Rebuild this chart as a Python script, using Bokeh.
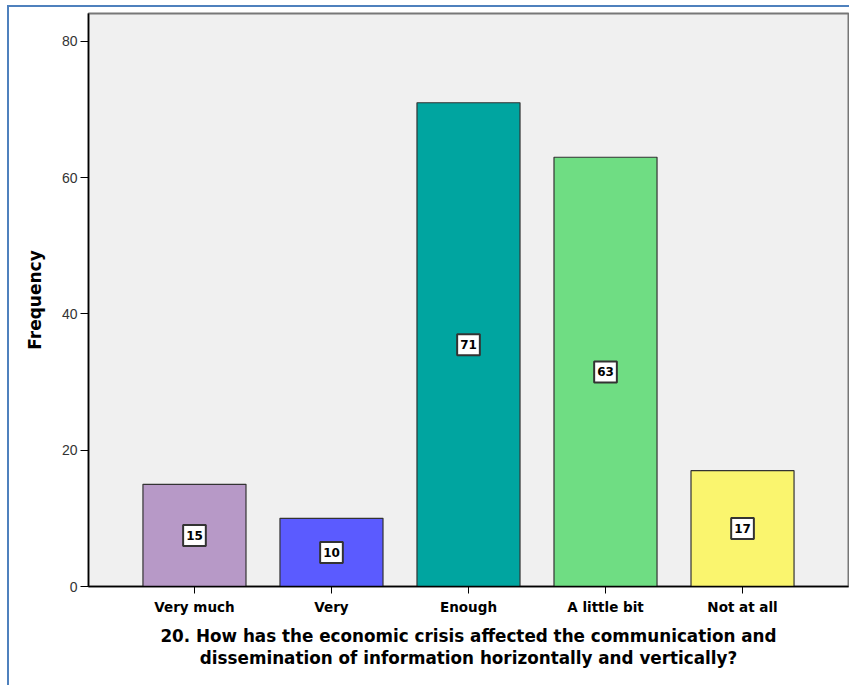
from bokeh.plotting import figure
from bokeh.models import FactorRange, Range1d, FixedTicker, InlineStyleSheet, ColumnDataSource
from bokeh.core.properties import value
from bokeh.embed import file_html
from bokeh.resources import INLINE

categories = ["Very much", "Very", "Enough", "A little bit", "Not at all"]
frequencies = [15, 10, 71, 63, 17]
bar_colors = ["#B799C7", "#5B5BFF", "#00A5A0", "#6FDD83", "#FAF56E"]
y_ticks = [0, 20, 40, 60, 80]
title_lines = ["20. How has the economic crisis affected the communication and",
               "dissemination of information horizontally and vertically?"]

FONT = "Liberation Sans"
BOLD = "DejaVu Sans"

src = ColumnDataSource(dict(
    cat=categories,
    freq=frequencies,
    half=[f / 2 for f in frequencies],
    lab=[str(f) for f in frequencies],
    color=bar_colors,
))

p = figure(
    x_range=FactorRange(factors=categories, range_padding=0.1094, range_padding_units="percent"),
    y_range=Range1d(0, 84.1),
    frame_width=760, frame_height=573,
    min_border_left=88, min_border_top=13, min_border_right=1, min_border_bottom=99,
    output_backend="svg", toolbar_location=None,
    background_fill_color="#F0F0F0", border_fill_color="white",
)

p.vbar(x="cat", top="freq", width=0.752, source=src, fill_color="color",
       line_color="#333333", line_width=1.2)

p.text(x="cat", y="half", text="lab", source=src,
       text_font=value(BOLD), text_font_style="bold", text_font_size="12px",
       text_color="black", text_align="center", text_baseline="middle",
       background_fill_color="white", border_line_color="#333333", border_line_width=2,
       padding=dict(left=3, right=3, top=6, bottom=6))

p.grid.visible = False
p.outline_line_color = "#777777"
p.outline_line_width = 2

p.yaxis.ticker = FixedTicker(ticks=y_ticks)
p.yaxis.minor_tick_line_color = None
p.yaxis.major_tick_out = 8
p.yaxis.major_tick_in = 0
p.yaxis.major_label_text_font = FONT
p.yaxis.major_label_text_font_size = "14px"
p.yaxis.major_label_text_color = "#333333"
p.yaxis.axis_line_color = "black"
p.yaxis.axis_line_width = 1.5
p.yaxis.axis_label = "Frequency"
p.yaxis.axis_label_text_font = BOLD
p.yaxis.axis_label_text_font_style = "bold"
p.yaxis.axis_label_text_font_size = "17px"
p.yaxis.axis_label_text_color = "black"
p.yaxis.axis_label_standoff = 14
p.yaxis.major_label_standoff = 3

p.xaxis.major_tick_out = 7
p.xaxis.major_tick_in = 0
p.xaxis.axis_line_color = "black"
p.xaxis.axis_line_width = 1.5
p.xaxis.major_label_text_font = BOLD
p.xaxis.major_label_text_font_style = "bold"
p.xaxis.major_label_text_font_size = "13.5px"
p.xaxis.major_label_text_color = "black"
p.xaxis.major_label_standoff = 5

p.xaxis.axis_label = "\n".join(title_lines)
p.xaxis.axis_label_text_font = BOLD
p.xaxis.axis_label_text_font_style = "bold"
p.xaxis.axis_label_text_font_size = "16.8px"
p.xaxis.axis_label_text_color = "black"
p.xaxis.axis_label_text_line_height = 1.12
p.xaxis.axis_label_standoff = 8

p.stylesheets = [InlineStyleSheet(css=":host { position: relative; } :host::after { content: ''; position: absolute; left: 7px; top: 5px; right: 0px; bottom: 0px; border-left: 2px solid #4F81BD; border-top: 2px solid #4F81BD; pointer-events: none; }")]

open("out.html", "w").write(file_html(p, INLINE))
